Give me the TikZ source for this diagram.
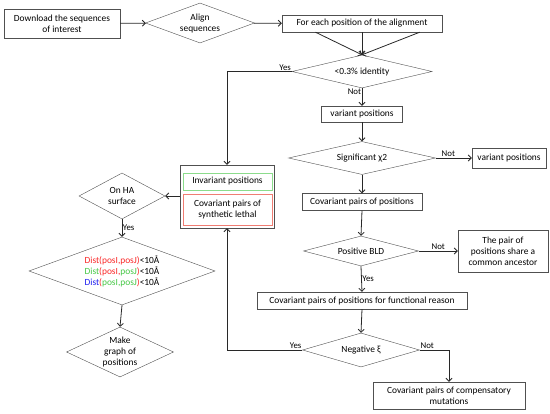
\documentclass[tikz,border=0pt]{standalone}
\usepackage{fontspec}
\setmainfont{Carlito}
\usetikzlibrary{shapes.geometric,arrows.meta,calc}

\definecolor{boxgray}{RGB}{80,80,80}
\definecolor{linegray}{RGB}{40,40,40}
\definecolor{invgreen}{RGB}{140,220,140}
\definecolor{lethalred}{RGB}{240,125,115}
\definecolor{distred}{RGB}{250,40,40}
\definecolor{distgreen}{RGB}{70,200,70}
\definecolor{distblue}{RGB}{30,30,240}

\tikzset{
  box/.style={draw=boxgray, fill=white, inner sep=1pt, align=center},
  dia/.style n args={3}{diamond, draw=boxgray, fill=white, inner sep=0pt, align=center,
    minimum width=#1, minimum height=#2, shape aspect=#3},
  flow/.style={draw=linegray, line width=0.8pt, ->},
  lbl/.style={inner sep=0.75pt, font=\fontsize{8.8}{10}\selectfont}
}

\begin{document}
\begin{tikzpicture}[x=1pt,y=1pt,yscale=-1,xscale=1,
    font=\fontsize{9.4}{11}\selectfont,
    >={Straight Barb[length=3pt,width=6pt]}]
        \useasboundingbox (0,0) rectangle (550,414);

        %Shape: top row
        \node [box, minimum width=116, minimum height=29] (dl) at (62,23.5) {Download the sequences\\of interest};
        \node [dia={109}{40}{2.7}] (align) at (200,23) {Align\\sequences};
        \node [box, minimum width=160, minimum height=17] (foreach) at (362,23.5) {For each position of the alignment};

        %Shape: main column
        \node [dia={140}{33}{4.24}] (ident) at (362,71.5) {<0.3\% identity};
        \node [box, minimum width=81, minimum height=16] (var1) at (362,114) {variant positions};
        \node [dia={147}{33}{4.45}] (sig) at (362,158) {Significant χ2};
        \node [box, minimum width=74, minimum height=20] (var2) at (509,158) {variant positions};
        \node [box, minimum width=120, minimum height=17] (cov) at (362,202) {Covariant pairs of positions};
        \node [dia={115}{30}{3.83}] (bld) at (361,251) {Positive BLD};
        \node [box, minimum width=90, minimum height=42] (anc) at (503,251) {The pair of\\positions share a\\common ancestor};
        \node [box, minimum width=210, minimum height=17] (func) at (362,300.5) {Covariant pairs of positions for functional reason};
        \node [dia={117}{34}{3.44}] (neg) at (361,350) {Negative ξ};
        \node [box, minimum width=152, minimum height=27] (comp) at (449,395.5) {Covariant pairs of compensatory\\mutations};

        %Shape: grouped results
        \node [draw=boxgray, fill=white, minimum width=94, minimum height=63] (grp) at (227,196.5) {};
        \node [box, draw=invgreen, minimum width=89, minimum height=17] (inv) at (227.5,181.5) {Invariant positions};
        \node [box, draw=lethalred, minimum width=89, minimum height=31] (syn) at (227.5,209.5) {Covariant pairs of\\synthetic lethal};

        %Shape: left column
        \node [dia={86}{46}{1.87}] (ha) at (122,196) {On HA\\surface};
        \node [dia={186}{68}{2.74}] (dist) at (122,271) {%
          {\color{distred}Dist(posI,posJ)}<10Å\\
          {\color{distgreen}Dist}{\color{distred}(posI,}{\color{distgreen}posJ}{\color{distred})}<10Å\\
          {\color{distblue}Dist}{\color{distred}(}{\color{distgreen}posI,posJ}{\color{distred})}<10Å};
        \node [dia={107}{50}{2.14}] (graph) at (120,352) {Make\\graph of\\positions};

        % Connectors
        \draw [flow] (dl) -- (align);
        \draw [flow] (align) -- (foreach);
        \draw [flow] ($(foreach.south west)!0.21!(foreach.south east)$) -- (ident.north);
        \draw [flow] (foreach.south) -- (ident.north);
        \draw [flow] ($(foreach.south west)!0.86!(foreach.south east)$) -- (ident.north);
        \draw [flow] (ident.west) -| (grp.north);
        \draw [flow] (ident.south) -- (var1.north);
        \draw [flow] (var1) -- (sig);
        \draw [flow] (sig.east) -- (var2.west);
        \draw [flow] (sig.south) -- (cov.north);
        \draw [flow] (cov.south) -- (bld.north);
        \draw [flow] (bld.east) -- (anc.west);
        \draw [flow] (bld.south) -- (func.north);
        \draw [flow] (func.south) -- (neg.north);
        \draw [flow] (neg.west) -| (grp.south);
        \draw [flow] (neg.east) -| (comp.north);
        \draw [flow] (grp.west |- ha.east) -- (ha.east);
        \draw [flow] (ha.south) -- (dist.north);
        \draw [flow] (dist.south) -- (graph.north);

        % Text Node
        \node [lbl, above left] (yes1) at (ident.west) {Yes};
        \node [lbl, below left] (not1) at (ident.south) {Not};
        \node [lbl, above] (not2) at ($(sig.east)!0.35!(var2.west)$) {Not};
        \node [lbl, above] (not3) at ($(bld.east)!0.5!(anc.west)$) {Not};
        \node [lbl, right] (yes2) at ($(bld.south)!0.5!(func.north)$) {Yes};
        \node [lbl, above left] (yes3) at (neg.west) {Yes};
        \node [lbl, above right] (not4) at (neg.east) {Not};
        \node [lbl, right] (yes4) at ($(ha.south)!0.5!(dist.north)$) {Yes};

\end{tikzpicture}
\end{document}
